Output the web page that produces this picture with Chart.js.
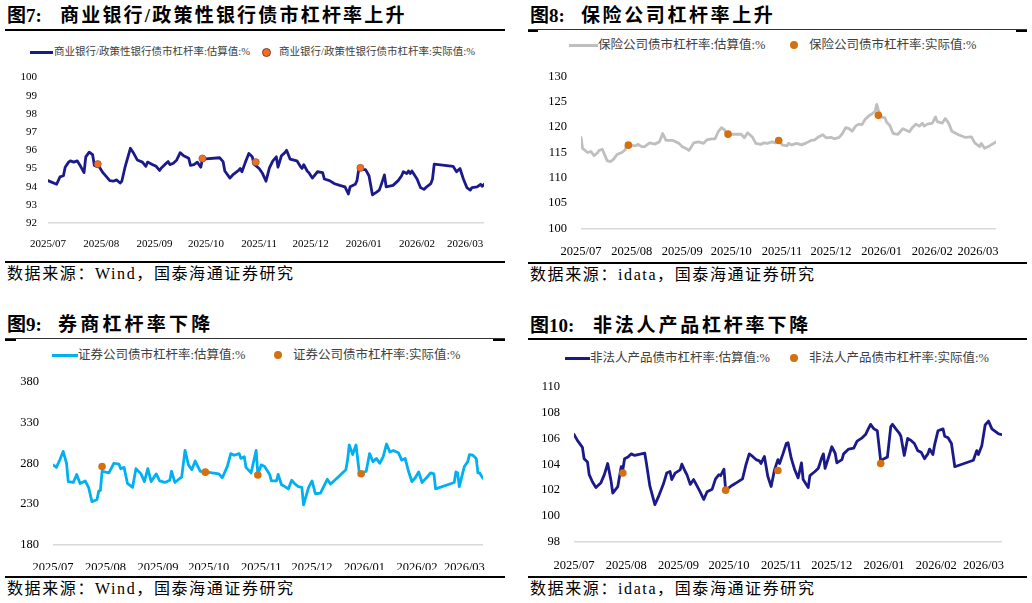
<!DOCTYPE html>
<html>
<head>
<meta charset="utf-8">
<script src="https://cdn.jsdelivr.net/npm/chart.js@4.4.1/dist/chart.umd.min.js"></script>
<style>
  html, body { margin: 0; padding: 0; background: #fff; }
  #root { position: relative; width: 1032px; height: 603px; overflow: hidden; background: #fff;
          font-family: "Liberation Serif", "Noto Sans CJK SC", serif; color: #000; }
  .abs { position: absolute; white-space: nowrap; }
  .ttl { font-weight: bold; font-size: 19px; line-height: 22px; }
  .src { font-size: 16px; line-height: 18px; letter-spacing: 1.6px; }
  .rule { position: absolute; background: #000; }
  .lg { position: absolute; white-space: nowrap; color: #404040; }
  .lgline { position: absolute; height: 3px; }
  .lgdot { position: absolute; border-radius: 50%; }
  canvas { position: absolute; }
</style>
</head>
<body>
<div id="root">
  <!-- Panel 1 -->
  <div class="abs ttl" style="left:7px;top:5px;">图7:</div>
  <div class="abs ttl" style="left:60px;top:5px;letter-spacing:2.2px;">商业银行/政策性银行债市杠杆率上升</div>
  <div class="rule" style="left:5px;top:29px;width:500px;height:2px;"></div>
  <div class="lgline" style="left:30px;top:51px;width:23px;background:#1B1A8A;"></div>
  <div class="lg" style="left:54px;top:45px;font-size:10.5px;line-height:14px;">商业银行/政策性银行债市杠杆率:估算值:%</div>
  <div class="lgdot" style="left:262px;top:48px;width:7px;height:7px;background:#F07020;border:0.5px solid #7a3a3a;"></div>
  <div class="lg" style="left:279px;top:45px;font-size:10.5px;line-height:14px;">商业银行/政策性银行债市杠杆率:实际值:%</div>
  <canvas id="c1" width="500" height="195" style="left:0px;top:60px;width:500px;height:195px;"></canvas>
  <div class="rule" style="left:5px;top:261px;width:500px;height:2px;"></div>
  <div class="abs src" style="left:7px;top:265px;">数据来源：Wind，国泰海通证券研究</div>

  <!-- Panel 2 -->
  <div class="abs ttl" style="left:530px;top:5px;">图8:</div>
  <div class="abs ttl" style="left:581px;top:5px;letter-spacing:2.6px;">保险公司杠杆率上升</div>
  <div class="rule" style="left:528px;top:29px;width:499px;height:1px;background:#333;"></div>
  <div class="rule" style="left:528px;top:30px;width:10px;height:2px;"></div>
  <div class="rule" style="left:1016px;top:30px;width:11px;height:2px;"></div>
  <div class="lgline" style="left:569px;top:44px;width:29px;background:#BFBFBF;"></div>
  <div class="lg" style="left:598px;top:37px;font-size:12.5px;line-height:16px;">保险公司债市杠杆率:估算值:%</div>
  <div class="lgdot" style="left:790px;top:41px;width:8px;height:8px;background:#D4700F;"></div>
  <div class="lg" style="left:809px;top:37px;font-size:12.5px;line-height:16px;">保险公司债市杠杆率:实际值:%</div>
  <canvas id="c2" width="516" height="200" style="left:516px;top:55px;width:516px;height:200px;"></canvas>
  <div class="rule" style="left:528px;top:262px;width:499px;height:2px;"></div>
  <div class="abs src" style="left:530px;top:266px;">数据来源：idata，国泰海通证券研究</div>

  <!-- Panel 3 -->
  <div class="abs ttl" style="left:7px;top:314px;">图9:</div>
  <div class="abs ttl" style="left:58px;top:314px;letter-spacing:3.2px;">券商杠杆率下降</div>
  <div class="rule" style="left:5px;top:338px;width:500px;height:1px;background:#333;"></div>
  <div class="rule" style="left:5px;top:339px;width:11px;height:2px;"></div>
  <div class="rule" style="left:493px;top:339px;width:12px;height:2px;"></div>
  <div class="lgline" style="left:52px;top:354px;width:26px;background:#00B0F0;"></div>
  <div class="lg" style="left:78px;top:347px;font-size:12.5px;line-height:16px;">证券公司债市杠杆率:估算值:%</div>
  <div class="lgdot" style="left:274px;top:351px;width:8px;height:8px;background:#D4700F;"></div>
  <div class="lg" style="left:293px;top:347px;font-size:12.5px;line-height:16px;">证券公司债市杠杆率:实际值:%</div>
  <canvas id="c3" width="516" height="210" style="left:0px;top:360px;width:516px;height:210px;"></canvas>
  <div class="rule" style="left:5px;top:576px;width:500px;height:2px;"></div>
  <div class="abs src" style="left:7px;top:580px;">数据来源：Wind，国泰海通证券研究</div>

  <!-- Panel 4 -->
  <div class="abs ttl" style="left:530px;top:315px;">图10:</div>
  <div class="abs ttl" style="left:593px;top:315px;letter-spacing:2.8px;">非法人产品杠杆率下降</div>
  <div class="rule" style="left:528px;top:338px;width:499px;height:2px;"></div>
  <div class="lgline" style="left:565px;top:357px;width:25px;background:#1B1A8A;"></div>
  <div class="lg" style="left:590px;top:350px;font-size:12.5px;line-height:16px;">非法人产品债市杠杆率:估算值:%</div>
  <div class="lgdot" style="left:790px;top:354px;width:8px;height:8px;background:#D4700F;"></div>
  <div class="lg" style="left:809px;top:350px;font-size:12.5px;line-height:16px;">非法人产品债市杠杆率:实际值:%</div>
  <canvas id="c4" width="516" height="205" style="left:516px;top:365px;width:516px;height:205px;"></canvas>
  <div class="rule" style="left:528px;top:576px;width:499px;height:2px;"></div>
  <div class="abs src" style="left:530px;top:580px;">数据来源：idata，国泰海通证券研究</div>
</div>

<script>
// ---------------- DATA ----------------
// x positions are days since 2025-07-01 (approx. trading-day samples)
const tickLabels = ['2025/07','2025/08','2025/09','2025/10','2025/11','2025/12','2026/01','2026/02','2026/03'];

// Fig 7: commercial / policy banks
const bankDays = [0,5,7,9,10,12,13,15,17,19,21,22,24,26,27,30,32,36,38,40,42,43,45,48,50,52,55,57,58,61,63,65,66,68,70,71,73,75,77,79,82,83,85,87,88,89,90,100,102,103,106,108,111,112,113,115,117,119,120,123,125,126,127,129,131,133,134,136,138,139,141,145,147,148,149,151,152,154,157,160,161,164,167,170,173,175,176,179,180,181,185,187,189,191,193,194,196,197,201,204,206,207,209,210,211,212,215,217,219,221,223,224,225,236,238,240,242,244,246,247,250,252,253,254];
const bankEst = [94.33,94.13,94.54,94.60,95.07,95.35,95.42,95.35,95.42,95.12,94.77,95.64,95.90,95.76,95.17,95.07,94.77,94.33,94.30,94.37,94.20,94.30,95.12,96.11,95.82,95.47,95.35,95.12,95.35,95.21,95.12,94.89,95.03,95.21,95.38,95.21,95.29,95.47,95.87,95.70,95.56,95.17,95.21,95.35,95.21,95.07,95.52,95.59,95.38,94.86,94.47,94.68,94.89,95.00,94.82,95.35,95.82,95.64,95.24,95.00,94.72,94.51,94.30,95.03,95.42,95.64,95.07,95.70,95.87,96.00,95.52,95.42,95.12,95.00,95.21,94.86,94.77,94.47,94.82,94.77,94.42,94.33,94.16,94.07,93.99,93.60,93.99,94.13,94.33,94.94,94.94,94.60,93.55,93.67,93.81,94.07,94.65,93.99,94.07,94.33,94.60,94.82,94.72,94.86,94.72,94.86,94.42,93.95,93.85,94.02,94.16,94.42,95.24,95.12,94.82,95.00,94.42,93.95,93.81,93.95,93.99,94.13,94.02,94.13];

// month-end actual observations (shared dates for all four figures)
const actualDays = [29,90,121,182];
const bankActual = [95.24,95.55,95.35,95.03];

// Fig 8: insurance companies
const insDays = [0,1,4,6,8,10,11,13,14,16,18,20,22,25,27,28,30,33,35,37,39,42,45,48,50,52,56,60,62,64,66,67,69,72,75,77,80,82,84,86,88,89,92,98,100,102,105,107,110,112,114,117,119,121,123,126,127,129,132,135,138,141,143,145,148,150,153,155,158,160,162,164,166,168,170,172,174,175,176,178,180,181,182,184,186,187,189,191,194,197,199,201,203,205,207,209,210,212,215,217,218,221,223,225,227,231,235,239,241,244,245,247,250,254];
const insEst = [118.0,115.8,115.0,115.2,114.4,114.9,115.4,115.65,114.9,113.4,113.2,113.7,114.6,115.0,115.5,116.5,116.5,116.3,116.6,116.15,116.15,116.9,116.65,117.1,118.75,117.4,117.4,116.8,116.15,115.85,115.4,115.85,116.9,117.1,116.8,117.5,117.7,117.7,119.1,119.9,119.4,118.75,118.6,118.6,117.9,118.9,118.0,116.8,116.6,116.9,116.8,117.1,116.9,117.7,116.5,116.3,116.8,116.5,116.8,116.5,116.9,117.4,117.5,118.0,118.5,117.9,118.0,117.7,118.0,118.75,119.9,119.7,119.2,120.2,120.6,120.5,121.6,121.85,122.2,122.6,123.1,124.5,123.3,122.0,121.85,121.0,120.35,118.75,118.6,119.7,119.4,119.1,120.0,120.6,120.2,120.8,120.2,120.6,120.8,122.0,121.1,120.8,121.7,120.8,119.2,118.5,118.0,118.1,116.9,116.15,116.8,115.85,116.3,117.1];
const insActual = [116.45,118.62,117.38,122.33];

// Fig 9: securities companies
const secDays = [0,2,4,6,8,9,12,14,16,19,21,23,26,27,28,29,33,36,39,40,42,44,47,49,52,54,56,58,61,63,66,69,70,72,75,76,78,80,82,84,87,90,98,100,103,105,107,110,111,113,114,117,120,121,123,125,128,129,132,133,135,137,139,141,143,145,147,148,151,153,155,158,162,164,168,170,173,174,175,177,179,181,185,187,189,191,193,195,197,199,201,204,206,208,210,212,214,216,218,221,223,225,226,237,238,239,240,243,245,246,248,250,251,252,254];
const secEst = [278,275,284,294.5,280,257.6,256.5,266.3,255.3,258.4,250.6,233,235.7,245.9,246.7,270.2,268.2,280,278.8,273.3,274.9,255.3,250.6,273.3,267,257.6,273.3,257.6,267,258.4,256.5,259.2,270.2,256.5,261.6,263.1,295.7,278,272.1,282.7,270.2,269.4,267,262.3,276.1,291.8,289.8,291.8,285.9,287.9,274.9,268.2,295.7,266.3,278,276.1,266.3,258.4,258.4,266.3,253.7,251.4,248.6,259.2,254.5,251.4,250.6,229,250.6,258.4,242.7,243.5,260.4,254.5,262.3,266.3,272.1,283.9,302.3,290.6,302.3,267,270.2,291.8,282,285.9,280,287.9,303.5,293.7,295.7,292.9,283.9,285.9,270.2,257.6,262.3,269.4,256.5,263.1,268.2,267,248.6,256.5,269.4,268.2,251.4,276.1,282,290.6,289.8,285.9,268.2,268.2,261.6];
const secActual = [276.1,269.1,265.6,267.1];

// Fig 10: non-legal-person products
const prodDays = [0,2,5,6,8,9,11,13,16,18,20,22,23,26,28,29,30,32,34,36,38,40,42,43,45,48,50,53,55,57,58,60,63,64,66,67,69,71,73,75,77,79,82,84,86,87,89,90,94,97,100,102,104,106,108,110,111,113,115,117,119,121,122,124,126,127,129,131,133,135,136,139,140,143,145,147,148,149,151,153,155,156,159,160,163,166,168,171,173,175,176,178,180,182,184,186,188,189,191,193,194,196,198,200,202,204,206,208,210,211,213,214,216,219,220,222,224,226,237,239,240,242,244,246,248,250,252,254];
const prodEst = [106.29,105.84,105.3,104.43,104.18,103.2,102.63,102.2,102.58,103.2,104.06,102.7,101.78,102.28,103.81,103.6,104.43,104.56,104.8,104.68,104.75,104.8,104.85,104.06,102.33,100.89,101.46,102.45,103.32,103.44,102.82,103.32,103.57,104.01,103.44,103.2,102.45,102.82,102.33,101.83,101.29,101.88,102.08,102.87,103.2,103.12,103.62,102.0,102.38,102.62,102.87,103.94,104.8,104.6,104.36,104.26,104.06,104.6,103.07,102.28,103.57,104.36,104.06,104.8,105.6,105.67,104.43,103.57,102.95,104.11,102.82,102.2,103.12,103.44,103.69,104.5,104.8,103.69,104.5,105.35,104.85,104.11,104.36,104.8,105.17,105.25,105.79,106.04,106.29,106.83,107.08,106.73,106.58,104.26,104.43,104.56,106.91,107.08,106.73,106.41,106.16,104.68,105.99,105.84,105.6,105.05,104.93,104.43,104.8,105.17,104.75,105.5,106.58,106.73,106.16,106.04,105.6,103.81,104.31,105.05,104.75,105.42,107.03,107.33,106.73,106.54,106.34,106.29];
const prodActual = [103.32,102.0,103.52,104.06];

// ---------------- HELPERS ----------------
const base = Date.UTC(2025, 6, 1);
const tickDays = tickLabels.map(s => {
  const [y, m] = s.split('/').map(Number);
  return Math.round((Date.UTC(y, m - 1, 1) - base) / 86400000);
});
const pts = (xs, ys) => xs.map((x, i) => ({ x: x, y: ys[i] }));

function makeChart(id, cfg) {
  const lastDay = Math.max(...cfg.days);
  return new Chart(document.getElementById(id), {
    type: 'line',
    data: {
      datasets: [
        {
          label: cfg.dotLabel,
          data: pts(actualDays, cfg.actual),
          showLine: false,
          pointRadius: cfg.dotR,
          pointBackgroundColor: cfg.dotColor,
          pointBorderColor: cfg.dotBorder,
          pointBorderWidth: cfg.dotBorderW,
          order: 0
        },
        {
          label: cfg.lineLabel,
          data: pts(cfg.days, cfg.est),
          borderColor: cfg.lineColor,
          borderWidth: 2.8,
          pointRadius: 0,
          tension: 0,
          fill: false,
          borderJoinStyle: 'round',
          borderCapStyle: 'round',
          order: 1
        }
      ]
    },
    options: {
      responsive: false,
      maintainAspectRatio: false,
      animation: false,
      events: [],
      layout: { padding: { top: cfg.padTop, right: cfg.padRight, left: 0, bottom: 0 } },
      plugins: { legend: { display: false }, tooltip: { enabled: false } },
      scales: {
        x: {
          type: 'linear',
          min: 0,
          max: lastDay,
          grid: { display: false },
          border: { display: false },
          afterBuildTicks: s => { s.ticks = tickDays.map(v => ({ value: v })); },
          afterFit: s => { s.height = cfg.xH; },
          ticks: {
            autoSkip: false,
            maxRotation: 0,
            padding: cfg.xPad,
            color: '#000',
            font: { family: 'Liberation Serif', size: cfg.fs },
            callback: v => tickLabels[tickDays.indexOf(v)]
          }
        },
        y: {
          min: cfg.ymin,
          max: cfg.ymax,
          afterFit: s => { s.width = cfg.yW; },
          border: { display: false },
          grid: {
            drawTicks: false,
            lineWidth: 1.5,
            color: c => (c.tick && c.tick.value === cfg.ymin) ? '#D9D9D9' : 'rgba(0,0,0,0)'
          },
          ticks: {
            stepSize: cfg.step,
            padding: cfg.yPad,
            color: '#000',
            font: { family: 'Liberation Serif', size: cfg.fs }
          }
        }
      }
    }
  });
}

makeChart('c1', {
  days: bankDays, est: bankEst, actual: bankActual,
  lineLabel: '商业银行/政策性银行债市杠杆率:估算值:%', dotLabel: '商业银行/政策性银行债市杠杆率:实际值:%',
  lineColor: '#1B1A8A', dotColor: '#F07020', dotBorder: '#8a4a3a', dotBorderW: 0.6, dotR: 3.6,
  ymin: 92, ymax: 100, step: 1,
  padTop: 10, padRight: 16, yW: 48, xH: 32, xPad: 7, yPad: 11, fs: 11
});
makeChart('c2', {
  days: insDays, est: insEst, actual: insActual,
  lineLabel: '保险公司债市杠杆率:估算值:%', dotLabel: '保险公司债市杠杆率:实际值:%',
  lineColor: '#BFBFBF', dotColor: '#D4700F', dotBorder: '#D4700F', dotBorderW: 0, dotR: 3.8,
  ymin: 100, ymax: 130, step: 5,
  padTop: 11.7, padRight: 36, yW: 65, xH: 26.5, xPad: 7.5, yPad: 14, fs: 12.5
});
makeChart('c3', {
  days: secDays, est: secEst, actual: secActual,
  lineLabel: '证券公司债市杠杆率:估算值:%', dotLabel: '证券公司债市杠杆率:实际值:%',
  lineColor: '#00B0F0', dotColor: '#D4700F', dotBorder: '#D4700F', dotBorderW: 0, dotR: 3.8,
  ymin: 180, ymax: 380, step: 50,
  padTop: 15, padRight: 33, yW: 53, xH: 25, xPad: 7.5, yPad: 14, fs: 12.5
});
makeChart('c4', {
  days: prodDays, est: prodEst, actual: prodActual,
  lineLabel: '非法人产品债市杠杆率:估算值:%', dotLabel: '非法人产品债市杠杆率:实际值:%',
  lineColor: '#1B1A8A', dotColor: '#D4700F', dotBorder: '#D4700F', dotBorderW: 0, dotR: 3.8,
  ymin: 98, ymax: 110, step: 2,
  padTop: 15, padRight: 30, yW: 58, xH: 28, xPad: 8.5, yPad: 14, fs: 12.5
});
</script>
</body>
</html>
